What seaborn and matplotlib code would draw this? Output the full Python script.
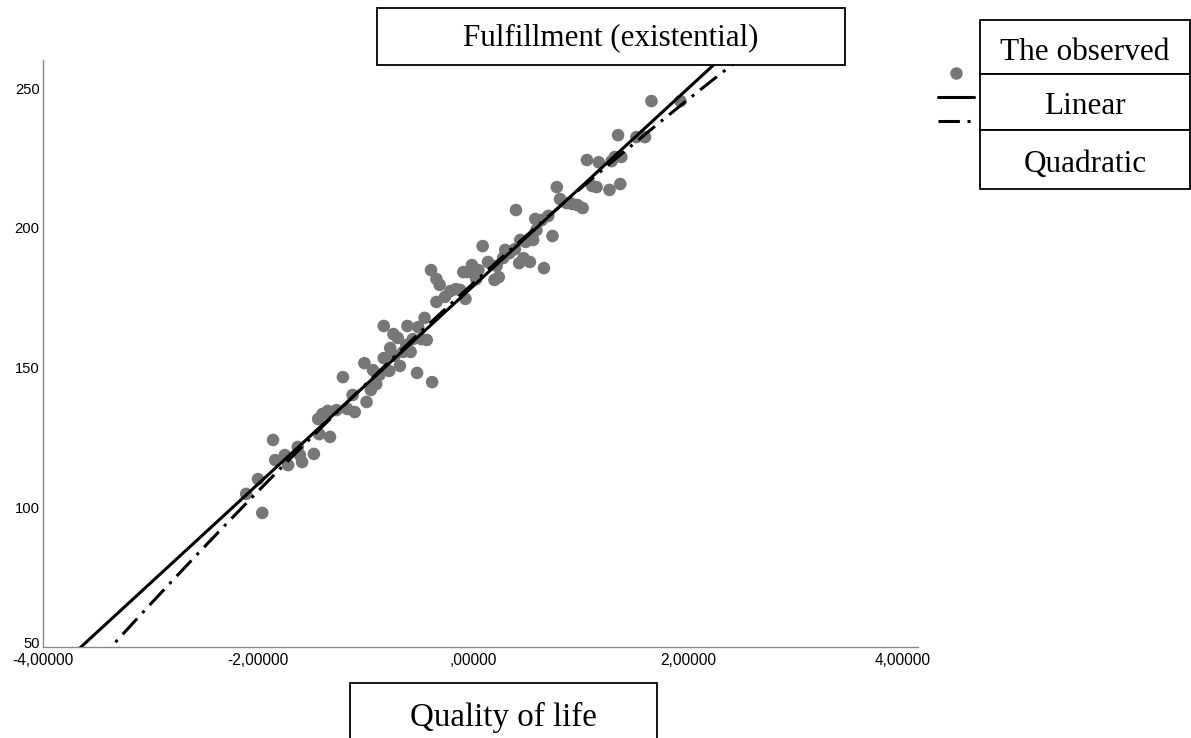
import numpy as np
import pandas as pd
import matplotlib
matplotlib.use("Agg")
import matplotlib.pyplot as plt
import matplotlib.transforms as mtransforms
import seaborn as sns
from matplotlib.patches import Rectangle
from matplotlib.lines import Line2D

# ---------------- data ----------------
quality_of_life = [
    -1.96, -2.11, -2.00, -1.86, -1.84, -1.72, -1.63, -1.59, -1.61, -1.48,
    -1.44, -1.40, -1.35, -1.33, -1.43, -1.27, -1.21, -1.17, -1.10, -1.01,
    -0.99, -0.95, -0.90, -0.87, -0.83, -0.83, -0.78, -0.74, -0.73, -0.68,
    -0.65, -0.62, -0.61, -0.58, -0.56, -0.52, -0.51, -0.48, -0.45, -0.43,
    -0.39, -0.38, -0.34, -0.34, -0.26, -0.21, -0.16, -0.09, -0.07, -0.05,
    -0.01, 0.03, 0.09, 0.20, 0.22, 0.24, 0.30, 0.34, 0.39, 0.40,
    0.43, 0.47, 0.49, 0.53, 0.56, 0.58, 0.64, 0.66, 0.74, 0.78,
    0.81, 0.87, 0.92, 0.97, 1.02, 1.06, 1.11, 1.15, 1.27, 1.29,
    1.32, 1.35, 1.37, 1.38, 1.52, 1.60, 1.66, 1.93, -0.31, -0.12,
    0.05, 0.14, 0.28, 0.44, 0.59, 0.70, -0.77, -1.12, -0.93, -0.70,
    -1.75, 1.17,
]
fulfillment = [
    98.0, 104.8, 110.1, 124.1, 116.9, 115.1, 121.6, 116.2, 118.7, 119.1,
    131.6, 133.4, 134.5, 125.2, 126.2, 134.8, 146.6, 135.2, 134.1, 151.6,
    137.7, 142.0, 144.1, 147.4, 164.9, 153.4, 148.8, 162.0, 154.2, 150.6,
    155.6, 158.1, 164.9, 155.6, 160.2, 148.1, 164.5, 160.2, 167.8, 159.9,
    184.9, 144.8, 173.5, 181.7, 175.3, 177.4, 178.1, 184.2, 174.6, 184.2,
    186.7, 181.7, 193.5, 181.4, 186.4, 182.4, 192.1, 191.0, 192.4, 206.4,
    187.4, 189.2, 195.0, 187.8, 195.7, 203.2, 202.8, 185.6, 197.1, 214.6,
    210.3, 208.9, 208.6, 208.2, 207.1, 224.3, 215.0, 214.6, 213.6, 223.9,
    225.4, 233.2, 215.7, 225.4, 232.5, 232.5, 245.4, 245.4, 179.6, 177.8,
    184.9, 187.8, 189.2, 195.7, 199.2, 204.3, 157.0, 140.2, 149.1, 160.6,
    118.7, 223.5,
]
linear_coef = [179.1, 35.4]              # intercept, slope
quadratic_coef = [180.1, 35.05, -1.067]  # a + b*x + c*x^2

x_ticks = [-4, -2, 0, 2, 4]
x_tick_labels = ["-4,00000", "-2,00000", ",00000", "2,00000", "4,00000"]
y_ticks = [50, 100, 150, 200, 250]
y_tick_labels = ["50", "100", "150", "200", "250"]
legend_labels = ["The observed", "Linear", "Quadratic"]
title_text = "Fulfillment (existential)"
xlabel_text = "Quality of life"

# ---------------- style ----------------
sns.set_theme(style="white")
plt.rcParams["font.family"] = ["Liberation Sans", "DejaVu Sans"]
plt.rcParams["text.color"] = "black"

W, H = 1191, 738
fig = plt.figure(figsize=(W / 100, H / 100), dpi=100)
fig.patch.set_facecolor("white")

def fx(px):
    return px / W

def fy(py):
    return 1 - py / H

ax = fig.add_axes([fx(43), fy(647), fx(918) - fx(43), fy(60) - fy(647)])
ax.set_facecolor("white")

point_color = "#777777"
df = pd.DataFrame({"q": quality_of_life, "f": fulfillment})
sns.scatterplot(data=df, x="q", y="f", ax=ax, color=point_color, s=82,
                edgecolor="none", linewidth=0, zorder=2)

xmin, xmax = -4.0, 4.14
ymin, ymax = 50.0, 260.1
xs = np.linspace(xmin, xmax, 400)
lin = linear_coef[0] + linear_coef[1] * xs
quad = quadratic_coef[0] + quadratic_coef[1] * xs + quadratic_coef[2] * xs ** 2
dashdot = (0, (7, 2.5, 1, 2.5))
sns.lineplot(x=xs, y=lin, ax=ax, color="black", linewidth=2.2, zorder=3,
             estimator=None, sort=False)
sns.lineplot(x=xs, y=quad, ax=ax, color="black", linewidth=2.2, zorder=3,
             linestyle=dashdot, estimator=None, sort=False)

ax.set_xlim(xmin, xmax)
ax.set_ylim(ymin, ymax)
ax.set_xticks(x_ticks)
ax.set_xticklabels(x_tick_labels)
ax.set_yticks(y_ticks)
ax.set_yticklabels(y_tick_labels)
ax.set_xlabel("")
ax.set_ylabel("")
ax.tick_params(axis="both", length=0, colors="black")
ax.tick_params(axis="x", pad=4.5, labelsize=11.2)
ax.tick_params(axis="y", pad=2.5, labelsize=10.6)
for s in ["top", "right"]:
    ax.spines[s].set_visible(False)
for s in ["left", "bottom"]:
    ax.spines[s].set_color("#8a8a8a")
    ax.spines[s].set_linewidth(1.0)
ax.grid(False)

# lift the "50" label slightly, as in the reference
lab50 = ax.get_yticklabels()[0]
lab50.set_transform(lab50.get_transform() +
                    mtransforms.ScaledTranslation(0, 4 / 100, fig.dpi_scale_trans))

serif = ["Liberation Serif", "DejaVu Serif"]

def box(x0, y0, x1, y1):
    r = Rectangle((fx(x0), fy(y1)), fx(x1) - fx(x0), fy(y0) - fy(y1),
                  transform=fig.transFigure, facecolor="white",
                  edgecolor="black", linewidth=1.3, zorder=5)
    fig.patches.append(r)

# title box
box(377, 8, 845, 65)
fig.text(fx(611), fy(38), title_text, ha="center", va="center",
         fontsize=22.3, family=serif, color="black", zorder=6)

# x label box (open at bottom)
box(350, 683, 657, 760)
fig.text(fx(503), fy(717), xlabel_text, ha="center", va="center",
         fontsize=23.8, family=serif, color="black", zorder=6)

# legend table
rows = [(20, 74), (74, 130), (130, 189)]
for (t, b), lab in zip(rows, legend_labels):
    box(980, t, 1190, b)
    fig.text(fx(1085), fy((t + b) / 2 + 5), lab, ha="center", va="center",
             fontsize=22.5, family=serif, color="black", zorder=6)

# legend keys
fig.add_artist(Line2D([fx(956)], [fy(73)], marker="o", markersize=9,
                      color=point_color, markeredgewidth=0, linestyle="none",
                      transform=fig.transFigure))
fig.add_artist(Line2D([fx(938), fx(974)], [fy(97), fy(97)], color="black",
                      linewidth=2.2, transform=fig.transFigure))
fig.add_artist(Line2D([fx(938), fx(971)], [fy(121), fy(121)], color="black",
                      linewidth=2.2, linestyle=dashdot,
                      transform=fig.transFigure))

fig.savefig("out.png", dpi=100, facecolor="white")
